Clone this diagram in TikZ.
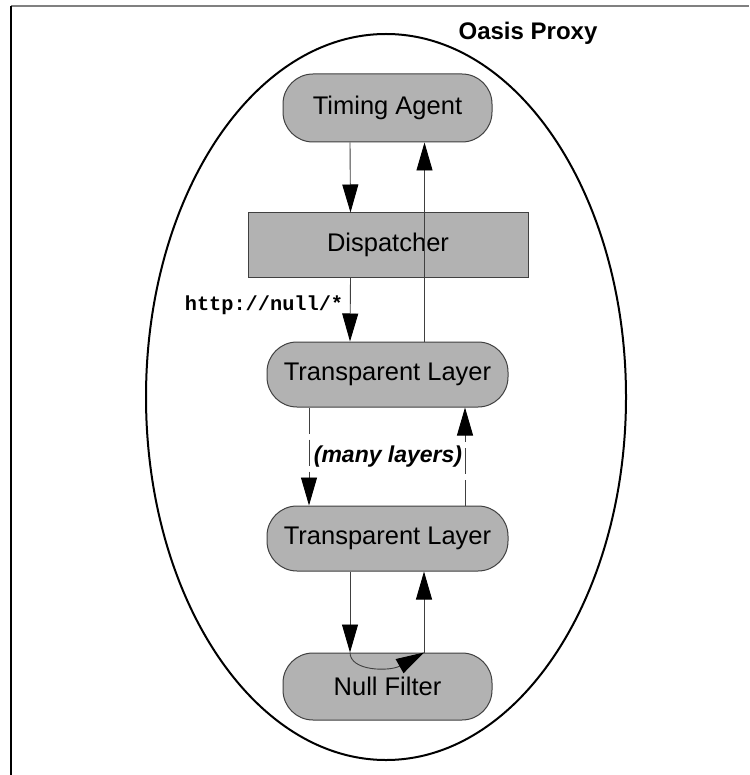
\documentclass[tikz,border=0pt]{standalone}
\usepackage{fontspec}
\setmainfont{Liberation Sans}
\newfontfamily\codefont{Liberation Mono}
\usetikzlibrary{arrows.meta}
\definecolor{boxfill}{gray}{0.70}
\definecolor{linegray}{gray}{0.25}
\definecolor{framegray}{gray}{0.5}
\begin{document}
\begin{tikzpicture}[x=1pt,y=-1pt,
  boxtext/.style={font=\fontsize{25.5}{28}\selectfont},
  agent/.style={boxtext, draw=linegray, line width=1pt, fill=boxfill,
    rounded corners=30pt, minimum width=209pt, minimum height=68pt, inner sep=0pt},
  layerbox/.style={agent, minimum width=241pt, minimum height=65pt},
  dispbox/.style={boxtext, draw=linegray, line width=1pt, fill=boxfill,
    minimum width=280pt, minimum height=64pt, inner sep=0pt},
  flow/.style={draw=linegray, line width=0.9pt,
    -{Triangle[length=28pt,width=16pt,color=black]}},
  dashflow/.style={flow, dash pattern=on 26pt off 6pt},
  title/.style={font=\fontsize{24}{28}\selectfont\bfseries, inner sep=0pt},
  note/.style={font=\fontsize{23}{26}\selectfont\bfseries\itshape, inner sep=0pt},
  urlnote/.style={font=\fontsize{20.3}{24}\selectfont\codefont\bfseries, inner sep=0pt}
]
\useasboundingbox (0,0) rectangle (749,775);
\fill[white] (0,0) rectangle (749,775);

% page frame
\draw[framegray, line width=2pt] (11,6) -- (749,6);
\draw[black, line width=1.5pt] (11,6) -- (11,775);

% proxy boundary
\draw[black, line width=2pt] (386,397) ellipse [x radius=240pt, y radius=363pt];
\node[title] (proxy) at (528,33) {Oasis Proxy};

% components
\node[agent] (ta) at (387.5,108) {Timing Agent};
\node[dispbox] (disp) at (388,245) {Dispatcher};
\node[layerbox] (tl1) at (387.5,374.5) {Transparent Layer};
\node[layerbox] (tl2) at (387.5,538.5) {Transparent Layer};
\node[agent, minimum height=67pt] (nf) at (387.5,686.5) {Null Filter};

% request path downwards
\draw[flow] ([xshift=-37.5pt]ta.south) -- ([xshift=-37.5pt]disp.north);
\draw[flow] ([xshift=-37.5pt]disp.south) -- ([xshift=-37.5pt]tl1.north);
\node[urlnote] (url) at (264,305) {http://null/*};
\draw[dashflow] ([xshift=-78.5pt]tl1.south) -- ([xshift=-78.5pt]tl2.north);
\node[note] (many) at (388,457) {(many layers)};
\draw[flow] ([xshift=-37.5pt]tl2.south) -- ([xshift=-37.5pt]nf.north);

% turnaround inside the null filter
\draw[flow] ([xshift=-37.5pt]nf.north) .. controls +(0,19) and +(-34,19) .. ([xshift=36.5pt]nf.north);

% response path upwards
\draw[flow] ([xshift=36.5pt]nf.north) -- ([xshift=36.5pt]tl2.south);
\draw[dashflow] ([xshift=77.5pt]tl2.north) -- ([xshift=77.5pt]tl1.south);
\draw[flow] ([xshift=37pt]tl1.north) -- ([xshift=37pt]ta.south);
\end{tikzpicture}
\end{document}
